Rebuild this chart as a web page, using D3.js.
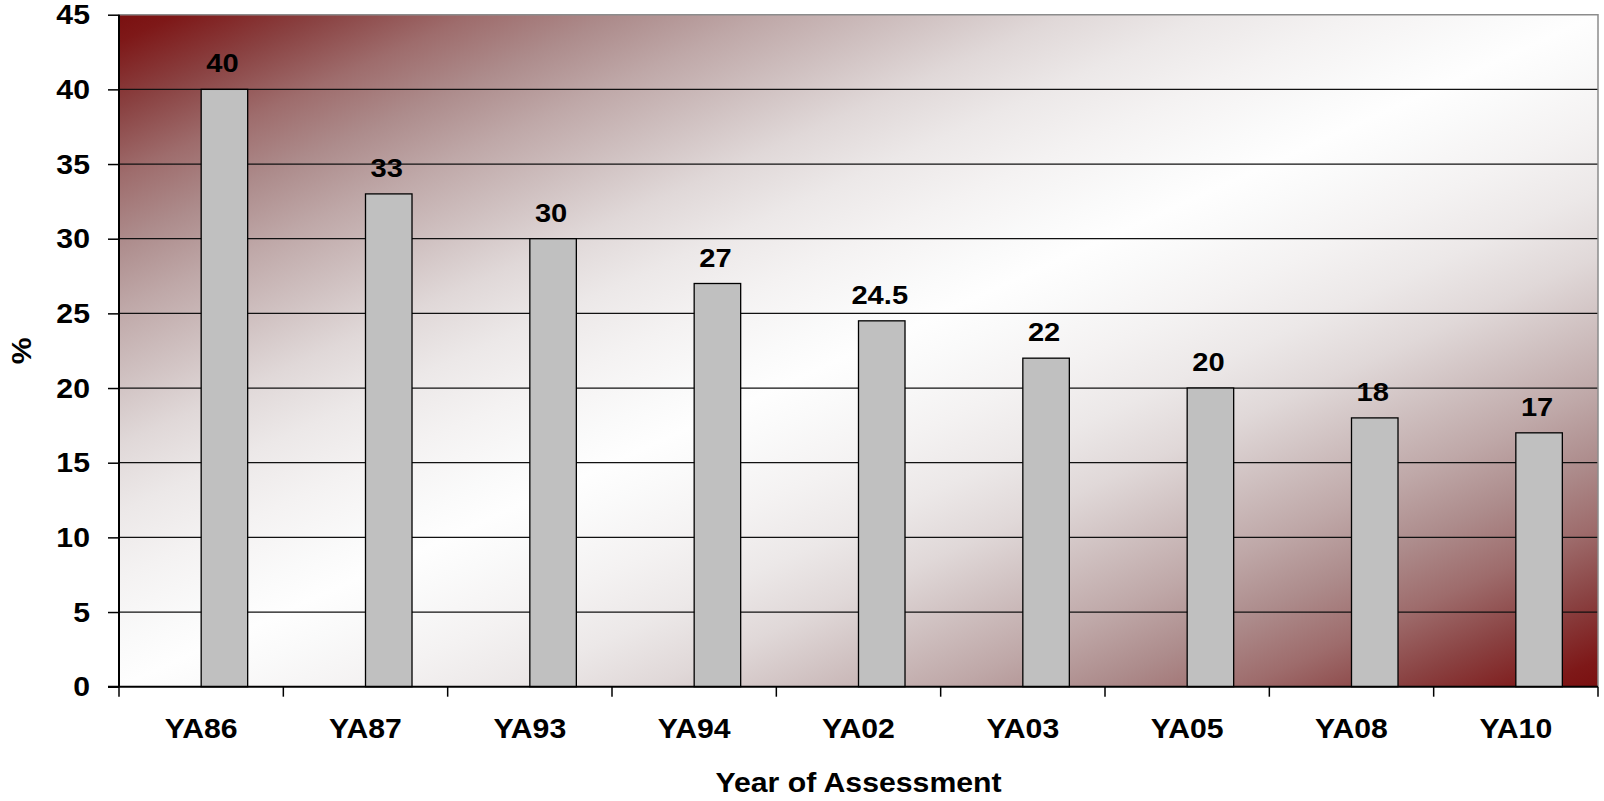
<!DOCTYPE html>
<html>

<head>
    <meta charset="UTF-8" />
    <title>Year of Assessment</title>
    <style>
        body {
            margin: 0;
            padding: 0;
            background: #ffffff;
            font-family: Arial, 'Liberation Sans', Helvetica, sans-serif;
        }

        svg text {
            font-weight: bold;
            fill: #000;
        }
    </style>
</head>

<body>
    <div class="container"></div>

    <script src="https://cdnjs.cloudflare.com/ajax/libs/d3/7.8.5/d3.min.js"></script>
    <script>
        const years = ["YA86", "YA87", "YA93", "YA94", "YA02", "YA03", "YA05", "YA08", "YA10"];
        const rates = [40, 33, 30, 27, 24.5, 22, 20, 18, 17];
        const yTicks = [0, 5, 10, 15, 20, 25, 30, 35, 40, 45];

        const w = 1604;
        const h = 801;
        const margin = { top: 14.7, right: 6, bottom: 114.3, left: 119 };
        const iw = w - margin.left - margin.right;
        const ih = h - margin.top - margin.bottom;
        const stretch = 1.12; // text in the original is a bit wider than Arial

        const svg = d3.select(".container").append('svg')
            .attr('width', w)
            .attr('height', h)
            .style('display', 'block')

        // background gradient: dark red corners, white diagonal band
        const stops = [
            [0, '#7a1010'], [0.02, '#7e1818'], [0.07, '#8a4242'], [0.12, '#9e6c6c'],
            [0.17, '#ad8c8c'], [0.22, '#bfa8a8'], [0.27, '#cfc0c0'], [0.32, '#e0d8d8'],
            [0.37, '#ece8e8'], [0.42, '#f4f2f2'], [0.47, '#fafafa'], [0.5, '#fefefe']
        ];
        const grad = svg.append('defs').append('linearGradient')
            .attr('id', 'bg')
            .attr('x1', 0).attr('y1', 0).attr('x2', 1).attr('y2', 1)
        stops.concat(stops.slice(0, -1).reverse().map(s => [1 - s[0], s[1]]))
            .forEach(s => grad.append('stop').attr('offset', s[0]).attr('stop-color', s[1]))

        function label(sel, fx, fy) {
            return sel.attr('transform', (d, i) => `translate(${fx(d, i)},${fy(d, i)}) scale(${stretch},1)`)
        }

        const g = svg.append('g').attr('transform', `translate(${margin.left},${margin.top})`)

        const x = d3.scaleBand().domain(years).range([0, iw]).padding(0)
        const y = d3.scaleLinear().domain([0, 45]).range([ih, 0])
        const barW = x.bandwidth() * 0.283;

        g.append('rect')
            .attr('width', iw)
            .attr('height', ih)
            .attr('fill', 'url(#bg)')

        // gridlines
        g.selectAll('.grid')
            .data(yTicks.filter(d => d > 0 && d < 45))
            .join('line')
            .attr('x1', 0).attr('x2', iw)
            .attr('y1', d => y(d)).attr('y2', d => y(d))
            .attr('stroke', '#111')
            .attr('stroke-width', 1.3)

        // top and right frame
        g.append('path')
            .attr('d', `M0,${y(45)}H${iw}V${ih}`)
            .attr('fill', 'none')
            .attr('stroke', '#8c8c8c')
            .attr('stroke-width', 1.5)

        // bars
        g.selectAll('.bar')
            .data(rates)
            .join('rect')
            .attr('x', (d, i) => x(years[i]) + x.bandwidth() / 2)
            .attr('y', d => y(d))
            .attr('width', barW)
            .attr('height', d => ih - y(d))
            .attr('fill', '#c0c0c0')
            .attr('stroke', '#000')
            .attr('stroke-width', 1.3)

        // value labels
        g.selectAll('.val')
            .data(rates)
            .join('text')
            .call(label, (d, i) => x(years[i]) + x.bandwidth() / 2 + barW / 2 - 2, d => y(d) - 17)
            .attr('text-anchor', 'middle')
            .style('font-size', '26px')
            .text(d => d)

        // y axis
        const yAxis = g.append('g')
            .call(d3.axisLeft(y).tickValues(yTicks).tickSize(11).tickFormat(''))
        yAxis.select('.domain').attr('stroke', '#000').attr('stroke-width', 2)
            .attr('d', `M0,${ih}V0`)
        yAxis.selectAll('.tick line').attr('stroke', '#000').attr('stroke-width', 1.5)
        g.selectAll('.ylab')
            .data(yTicks)
            .join('text')
            .call(label, () => -29, d => y(d))
            .attr('dy', '0.36em')
            .attr('text-anchor', 'end')
            .style('font-size', '27px')
            .text(d => d)

        // x axis with ticks between categories
        const xg = g.append('g').attr('transform', `translate(0,${ih})`)
        xg.append('line')
            .attr('x1', -11).attr('x2', iw)
            .attr('stroke', '#000').attr('stroke-width', 2)
        xg.selectAll('.xt')
            .data(years.map(d => x(d)).concat([iw]))
            .join('line')
            .attr('x1', d => d).attr('x2', d => d)
            .attr('y1', 0).attr('y2', 10)
            .attr('stroke', '#000').attr('stroke-width', 1.5)
        xg.selectAll('.xl')
            .data(years)
            .join('text')
            .call(label, d => x(d) + x.bandwidth() / 2, () => 51.5)
            .attr('text-anchor', 'middle')
            .style('font-size', '27px')
            .text(d => d)

        // axis titles
        svg.append('text')
            .attr('transform', `translate(${margin.left + iw / 2},792) scale(${stretch},1)`)
            .attr('text-anchor', 'middle')
            .style('font-size', '27px')
            .text('Year of Assessment')

        svg.append('text')
            .attr('transform', `translate(31,${margin.top + ih / 2}) rotate(-90) scale(${stretch},1)`)
            .attr('text-anchor', 'middle')
            .style('font-size', '27px')
            .text('%')
    </script>
</body>

</html>
